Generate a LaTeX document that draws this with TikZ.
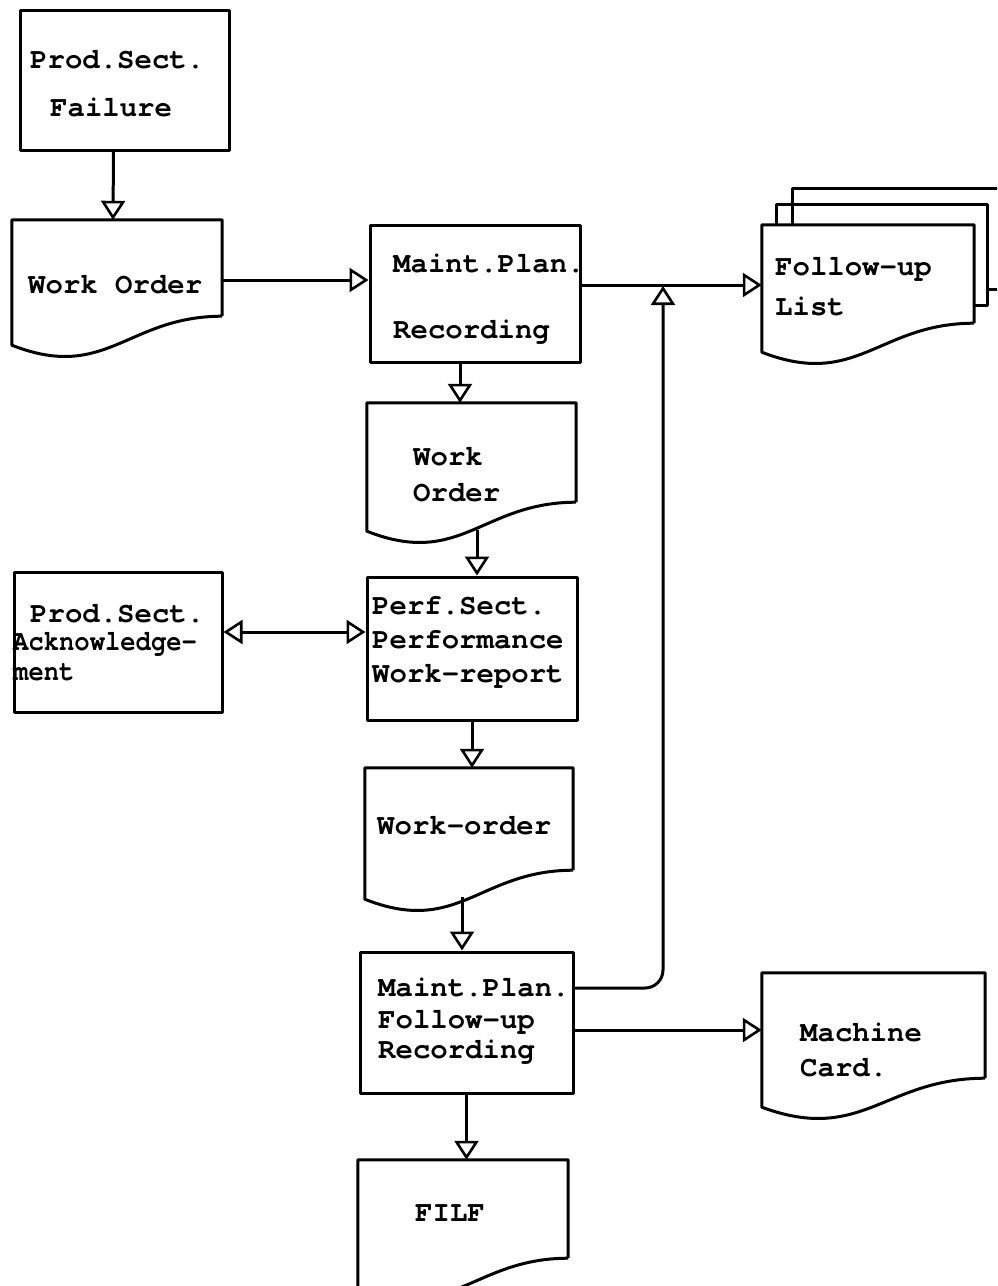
\documentclass[tikz,border=0pt]{standalone}
\usepackage{fontspec}
\setmainfont{texgyrecursor}[Extension=.otf, UprightFont=*-regular, BoldFont=*-bold]
\usetikzlibrary{arrows.meta,calc}

\tikzset{
  outline/.style={line width=3pt, line join=round},
  box/.style={draw, outline, rectangle, inner sep=0pt},
  docnode/.style={draw=none, rectangle, inner sep=0pt},
  lbl/.style={inner sep=0pt, anchor=mid west, font=\bfseries\fontsize{29}{34}\selectfont},
  arr/.style={line width=3pt, -{Triangle[open, length=19pt, width=24pt, line width=2.6pt]}},
  darr/.style={line width=3pt, {Triangle[open, length=19pt, width=24pt, line width=2.6pt]}-{Triangle[open, length=19pt, width=24pt, line width=2.6pt]}}
}

% document symbol: straight top and sides, wavy lower edge
\newcommand\docline[2]{%
  \draw[outline] (#1.south east) -- (#1.north east) -- (#1.north west)
    -- ($(#1.south west)+(0,29)$)
    .. controls ($(#1.south west)+(0.45*#2,66)$) and ($(#1.south west)+(0.55*#2,0)$)
    .. (#1.south east);}

\begin{document}
\begin{tikzpicture}[x=1pt, y=-1pt]
\fill[white] (0,0) rectangle (997,1286);
\clip (0,0) rectangle (997,1286);

% ---- shapes ----
\node[box, minimum width=209pt, minimum height=140pt] (psf) at (124.5,80) {};
\node[docnode, minimum width=210pt, minimum height=96pt] (wo1) at (117,268) {};
\docline{wo1}{210}
\node[box, minimum width=210pt, minimum height=137pt] (mp1) at (475,293.5) {};

% stacked follow-up list
\node[docnode, minimum width=212pt, minimum height=98pt] (ful) at (868,274) {};
\draw[outline] ($(ful.north west)+(31,0)$) -- ($(ful.north west)+(31,-36)$) -- ($(ful.north west)+(245,-36)$);
\draw[outline] ($(ful.north east)+(25,65)$) -- ($(ful.north east)+(13,65)$);
\draw[outline] ($(ful.north west)+(15,0)$) -- ($(ful.north west)+(15,-20)$)
  -- ($(ful.north east)+(13,-20)$) -- ($(ful.north east)+(13,81)$) -- ($(ful.north east)+(0,81)$);
\fill[white] (ful.north west) rectangle (ful.south east);
\docline{ful}{212}

\node[docnode, minimum width=209pt, minimum height=99pt] (wo2) at (471.5,452.5) {};
\docline{wo2}{209}
\node[box, minimum width=210pt, minimum height=143pt] (psp) at (472,648.5) {};
\node[box, minimum width=208pt, minimum height=140pt] (psa) at (118,642) {};
\node[docnode, minimum width=208pt, minimum height=102pt] (wo3) at (469,819) {};
\docline{wo3}{208}
\node[box, minimum width=213pt, minimum height=141pt] (mpf) at (466.5,1022.5) {};
\node[docnode, minimum width=223pt, minimum height=105pt] (mc) at (873.5,1025.5) {};
\docline{mc}{223}
\node[docnode, minimum width=210pt, minimum height=98pt] (file) at (463,1209) {};
\docline{file}{210}

% ---- texts ----
\node[lbl] (t1) at (30,66) {Prod.Sect.};
\node[lbl] (t2) at (50,114) {Failure};
\node[lbl] (t3) at (28,291) {Work Order};
\node[lbl] (t4) at (393,270) {Maint.Plan.};
\node[lbl] (t5) at (393,336) {Recording};
\node[lbl] (t6) at (775,273) {Follow-up};
\node[lbl] (t7) at (775,313) {List};
\node[lbl] (t8) at (413,463) {Work};
\node[lbl] (t9) at (413,499) {Order};
\node[lbl] (t10) at (30,620) {Prod.Sect.};
\node[lbl] (t11) at (13,648) {\scalebox{0.88}[1]{Acknowledge-}};
\node[lbl] (t12) at (13,678) {\scalebox{0.88}[1]{ment}};
\node[lbl] (t13) at (372,612) {Perf.Sect.};
\node[lbl] (t14) at (372,646) {Performance};
\node[lbl] (t15) at (372,680) {Work-report};
\node[lbl] (t16) at (377,832) {Work-order};
\node[lbl] (t17) at (378,994) {Maint.Plan.};
\node[lbl] (t18) at (378,1026) {Follow-up};
\node[lbl] (t19) at (378,1056) {Recording};
\node[lbl] (t20) at (800,1039) {Machine};
\node[lbl] (t21) at (800,1074) {Card.};
\node[lbl] (t22) at (415,1219) {FILF};

% ---- connectors ----
\draw[arr] ([xshift=-11pt]psf.south) -- ([xshift=-4pt]wo1.north);
\draw[arr] ([yshift=-12pt]wo1.east) -- ([yshift=-12pt]wo1.east -| mp1.west);
\draw[arr] ([yshift=8.5pt]mp1.east) -- ([yshift=8.5pt]mp1.east -| ful.west);
\coordinate (join) at (663,286);
\draw[arr, rounded corners=18pt] ([yshift=34.5pt]mpf.east) -| (join);
\draw[arr] ([xshift=-15pt]mp1.south) -- ([xshift=-15pt]mp1.south |- wo2.north);
\coordinate (wo2out) at ($(wo2.south)+(5.5,28)$);
\draw[arr] (wo2out) -- (wo2out |- psp.north);
\draw[darr] ([yshift=10pt]psa.east) -- ([yshift=10pt]psa.east -| psp.west);
\draw[arr] (psp.south) -- (psp.south |- wo3.north);
\coordinate (wo3out) at ($(wo3.south)+(-7,27)$);
\draw[arr] (wo3out) -- (wo3out |- mpf.north);
\draw[arr] ([yshift=-7.5pt]mpf.east) -- ([yshift=-7.5pt]mpf.east -| mc.west);
\draw[arr] (mpf.south) -- (mpf.south |- file.north);
\end{tikzpicture}
\end{document}
